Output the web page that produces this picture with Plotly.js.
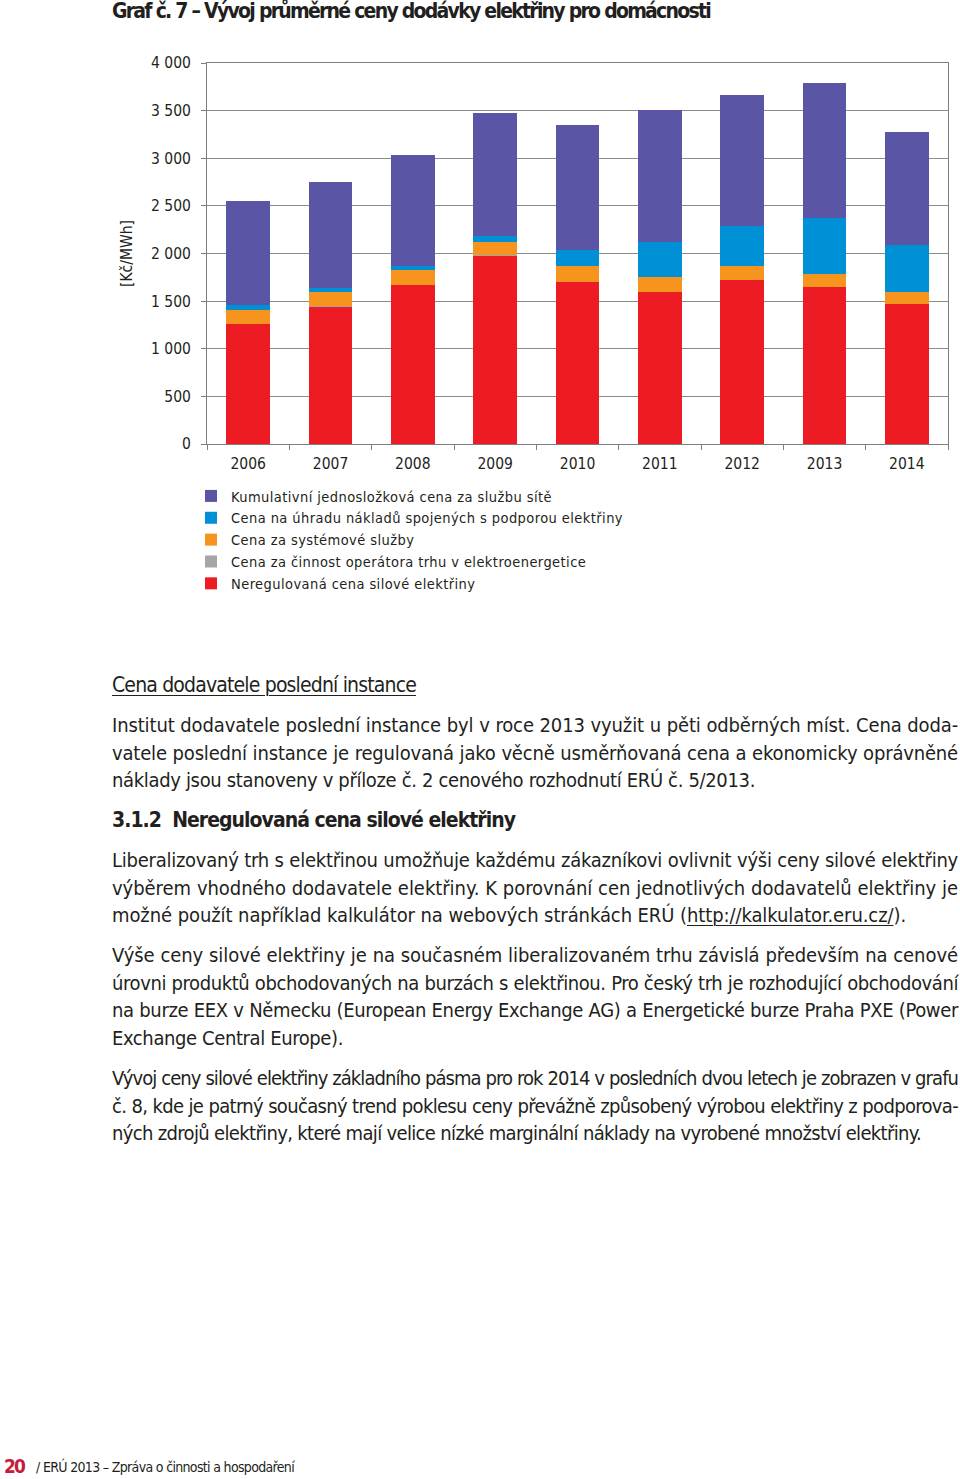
<!DOCTYPE html>
<html>
<head>
<meta charset="utf-8">
<script src="https://cdn.plot.ly/plotly-3.0.1.min.js"></script>
<style>
  html, body { margin: 0; padding: 0; background: #fff; }
  body { width: 960px; height: 1479px; position: relative; overflow: hidden;
         font-family: "DejaVu Sans Condensed", "Liberation Sans Narrow", "Noto Sans", sans-serif; color: #231f20; }
  #chart { position: absolute; left: 0; top: 0; width: 960px; height: 610px; }
  .ln { position: absolute; left: 112px; width: 846px; height: 27.5px; line-height: 27.5px; font-size: 20px; white-space: nowrap; }
  .j { text-align: justify; text-align-last: justify; }
  .l { text-align: left; }
  .h1 { font-size: 21px; text-decoration: underline; text-underline-offset: 3px; text-decoration-thickness: 1px; }
  .h2 { font-size: 21px; font-weight: bold; }
  .u { text-decoration: underline; text-underline-offset: 3px; text-decoration-thickness: 1px; }
  #pg { position: absolute; left: 4px; top: 1455px; font-size: 19px; font-weight: bold; color: #c41e3a; line-height: 22px; white-space: nowrap; }
  #ft { position: absolute; left: 36px; top: 1458px; font-size: 14px; color: #231f20; line-height: 18px; white-space: nowrap; }
</style>
</head>
<body>
<div id="chart"></div>

<div class="ln l h1" data-w="304" style="top:672px">Cena dodavatele poslední instance</div>

<div class="ln j" data-w="844" style="top:712px">Institut dodavatele poslední instance byl v roce 2013 využit u pěti odběrných míst. Cena doda-</div>
<div class="ln j" data-w="844" style="top:739.5px">vatele poslední instance je regulovaná jako věcně usměrňovaná cena a ekonomicky oprávněné</div>
<div class="ln l" data-w="643" style="top:767px">náklady jsou stanoveny v příloze č. 2 cenového rozhodnutí ERÚ č. 5/2013.</div>

<div class="ln l h2" data-w="403" style="top:807px">3.1.2&nbsp; Neregulovaná cena silové elektřiny</div>

<div class="ln j" data-w="844" style="top:847px">Liberalizovaný trh s elektřinou umožňuje každému zákazníkovi ovlivnit výši ceny silové elektřiny</div>
<div class="ln j" data-w="844" style="top:874.5px">výběrem vhodného dodavatele elektřiny. K porovnání cen jednotlivých dodavatelů elektřiny je</div>
<div class="ln l" data-w="794" style="top:902px">možné použít například kalkulátor na webových stránkách ERÚ (<span class="u">http://kalkulator.eru.cz/</span>).</div>

<div class="ln j" data-w="844" style="top:942px">Výše ceny silové elektřiny je na současném liberalizovaném trhu závislá především na cenové</div>
<div class="ln j" data-w="844" style="top:969.5px">úrovni produktů obchodovaných na burzách s elektřinou. Pro český trh je rozhodující obchodování</div>
<div class="ln j" data-w="844" style="top:997px">na burze EEX v Německu (European Energy Exchange AG) a Energetické burze Praha PXE (Power</div>
<div class="ln l" data-w="231" style="top:1024.5px">Exchange Central Europe).</div>

<div class="ln j" data-w="844" style="top:1065px">Vývoj ceny silové elektřiny základního pásma pro rok 2014 v posledních dvou letech je zobrazen v grafu</div>
<div class="ln j" data-w="844" style="top:1092.5px">č. 8, kde je patrný současný trend poklesu ceny převážně způsobený výrobou elektřiny z podporova-</div>
<div class="ln l" data-w="809" style="top:1120px">ných zdrojů elektřiny, které mají velice nízké marginální náklady na vyrobené množství elektřiny.</div>

<div id="pg" class="fit" data-w="20">20</div>
<div id="ft" class="fit" data-w="258">/ ERÚ 2013 – Zpráva o činnosti a hospodaření</div>

<script>
const years = ['2006','2007','2008','2009','2010','2011','2012','2013','2014'];
const seriesNames = [
  'Neregulovaná cena silové elektřiny',
  'Cena za činnost operátora trhu v elektroenergetice',
  'Cena za systémové služby',
  'Cena na úhradu nákladů spojených s podporou elektřiny',
  'Kumulativní jednosložková cena za službu sítě'
];
const silovaElektrina = [1258, 1440, 1668, 1976, 1696, 1591, 1720, 1646, 1468];
const operatorTrhu    = [6, 6, 6, 6, 6, 6, 6, 6, 6];
const systemoveSluzby = [146, 150, 150, 139, 164, 153, 140, 137, 122];
const podporaOZE      = [46, 38, 48, 66, 174, 374, 419, 584, 497];
const sluzbaSite      = [1095, 1121, 1163, 1285, 1313, 1383, 1376, 1414, 1183];
const colors = ['#ed1c24', '#a6a6a8', '#f7941d', '#0090d6', '#5b55a5'];
const yTickVals = [0, 500, 1000, 1500, 2000, 2500, 3000, 3500, 4000];
const yTickText = ['0', '500', '1 000', '1 500', '2 000', '2 500', '3 000', '3 500', '4 000'];

const allSeries = [silovaElektrina, operatorTrhu, systemoveSluzby, podporaOZE, sluzbaSite];
const traces = allSeries.map((vals, i) => ({
  type: 'bar', x: years, y: vals, name: seriesNames[i],
  marker: { color: colors[i], line: { width: 0 } }
}));

const fontFam = '"DejaVu Sans Condensed", "Liberation Sans Narrow", "Noto Sans", sans-serif';
const layout = {
  width: 960, height: 610,
  margin: { l: 207, r: 12, t: 63, b: 166, autoexpand: false },
  paper_bgcolor: '#ffffff', plot_bgcolor: '#ffffff',
  font: { family: fontFam, size: 15, color: '#231f20' },
  barmode: 'stack', bargap: 0.47,
  title: {
    text: '<b>Graf č. 7 – Vývoj průměrné ceny dodávky elektřiny pro domácnosti</b>',
    x: 112 / 960, xref: 'container', xanchor: 'left',
    y: 1 - 11 / 610, yref: 'container', yanchor: 'middle',
    font: { family: fontFam, size: 21, color: '#231f20' }
  },
  xaxis: {
    type: 'category', showline: true, linecolor: '#7f7f7f', linewidth: 1, mirror: true,
    ticks: 'outside', tickson: 'boundaries', ticklen: 5, tickcolor: '#7f7f7f',
    ticklabelstandoff: 5,
    showgrid: false, tickfont: { size: 15.5, color: '#231f20' }
  },
  yaxis: {
    range: [0, 4000], tickvals: yTickVals, ticktext: yTickText,
    showline: true, linecolor: '#7f7f7f', linewidth: 1, mirror: true,
    ticks: 'outside', ticklen: 5, tickcolor: '#7f7f7f', ticklabelstandoff: 7,
    showgrid: true, gridcolor: '#8c8c8c', gridwidth: 1, zeroline: false,
    tickfont: { size: 15.5, color: '#231f20' },
    title: { text: '[Kč/MWh]', standoff: 14, font: { size: 15.5, color: '#231f20' } }
  },
  showlegend: true,
  legend: {
    orientation: 'v', traceorder: 'reversed',
    x: (191 - 207) / 741, xanchor: 'left', y: -(480 - 444) / 381, yanchor: 'top',
    font: { size: 14.5, color: '#231f20' }, bgcolor: 'rgba(0,0,0,0)', itemclick: false
  }
};

// fit HTML text lines to reference widths via letter-spacing
function fitHtml(el) {
  const target = parseFloat(el.dataset.w);
  const saveA = el.style.textAlign, saveL = el.style.textAlignLast;
  el.style.letterSpacing = '0px';
  const r = document.createRange();
  r.selectNodeContents(el);
  el.style.textAlign = 'left'; el.style.textAlignLast = 'auto';
  const w = r.getBoundingClientRect().width;
  const n = el.textContent.length;
  el.style.letterSpacing = ((target - w) / n).toFixed(3) + 'px';
  el.style.textAlign = saveA; el.style.textAlignLast = saveL;
}
document.querySelectorAll('.ln, .fit').forEach(fitHtml);

function fitSvgText(node, target) {
  node.style.letterSpacing = '0px';
  const w = node.getComputedTextLength();
  const n = node.textContent.length;
  return (target - w) / n;
}

Plotly.newPlot('chart', traces, layout, { displayModeBar: false, staticPlot: true }).then(gd => {
  const t = gd.querySelector('.gtitle');
  if (t) { const ls = fitSvgText(t, 598); t.style.letterSpacing = ls + 'px'; }
  const texts = gd.querySelectorAll('.legendtext');
  let ls = null;
  texts.forEach(tx => {
    if (tx.textContent.indexOf('Kumulativní') === 0) ls = fitSvgText(tx, 321);
  });
  if (ls !== null) texts.forEach(tx => { tx.style.letterSpacing = ls + 'px'; });
  gd.querySelectorAll('.legend [clip-path], .legend').forEach(g => g.removeAttribute('clip-path'));
});
</script>
</body>
</html>
